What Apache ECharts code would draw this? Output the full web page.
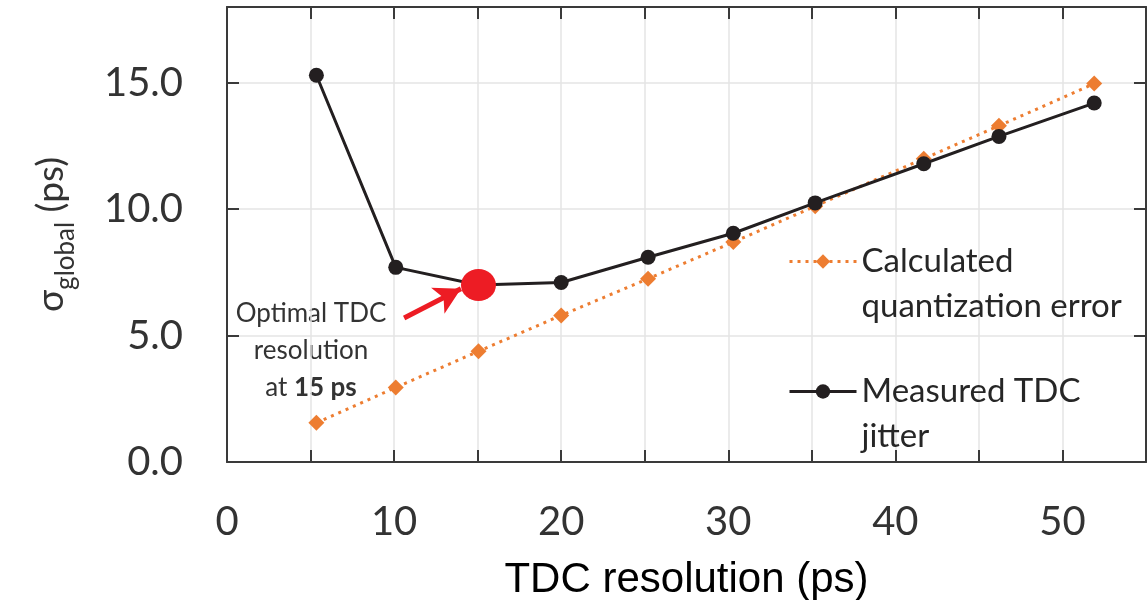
<!DOCTYPE html>
<html>
<head>
<meta charset="utf-8">
<script src="https://cdn.jsdelivr.net/npm/echarts@6/dist/echarts.min.js"></script>
<style>
  html, body { margin: 0; padding: 0; background: #fff; }
  #chart { width: 1148px; height: 600px; }
</style>
</head>
<body>
<div id="chart"></div>
<script>
// values
const resolution = [5.35, 10.1, 15.05, 20.0, 25.2, 30.3, 35.2, 41.7, 46.2, 51.9];
const calculated = [1.55, 2.95, 4.38, 5.8, 7.25, 8.7, 10.12, 12.0, 13.3, 14.97];
const measured = [15.3, 7.7, 7.0, 7.1, 8.1, 9.05, 10.25, 11.8, 12.88, 14.2];
const optimal = [15.05, 7.0];
const arrowFrom = [10.6, 5.7];
const arrowTo = [14.0, 6.85];
const xTicks = [0, 10, 20, 30, 40, 50];
const yTicks = [0, 5, 10, 15];

const FONT = 'Lato';
const axisColor = '#3a3a3a';
const gridColor = '#e4e4e4';

let chart = echarts.init(document.getElementById('chart'));

function boxLine() {
    return { show: true, onZero: false, lineStyle: { color: axisColor, width: 2 } };
}
function boxTick() {
    return { show: true, inside: true, length: 12, lineStyle: { color: axisColor, width: 2 } };
}
// axis that only draws the light grid lines, kept under the framed axes
function gridOnly(max, pos) {
    return {
        type: 'value', position: pos, min: 0, max: max, interval: 5, z: 0,
        axisLine: { show: false }, axisTick: { show: false }, axisLabel: { show: false },
        splitLine: { show: true, lineStyle: { color: gridColor, width: 1.5 } }
    };
}

chart.setOption({
    animation: false,
    grid: { left: 227, right: 2, top: 7, bottom: 138, outerBoundsMode: 'none' },
    xAxis: [
        {
            type: 'value', position: 'bottom', min: 0, max: 55, interval: 5, z: 2,
            axisLine: boxLine(), axisTick: boxTick(),
            axisLabel: {
                fontFamily: FONT, fontSize: 40, color: '#333', margin: 40,
                formatter: v => xTicks.includes(v) ? String(v) : ''
            },
            splitLine: { show: false },
            name: 'TDC resolution (ps)',
            nameLocation: 'middle',
            nameGap: 97,
            nameTextStyle: { fontFamily: 'Liberation Sans', fontSize: 42, color: '#000' }
        },
        {
            type: 'value', position: 'top', min: 0, max: 55, interval: 5, z: 2,
            axisLine: boxLine(), axisTick: boxTick(),
            axisLabel: { show: false }, splitLine: { show: false }
        },
        gridOnly(55, 'bottom')
    ],
    yAxis: [
        {
            type: 'value', position: 'left', min: 0, max: 18, interval: 5, z: 2,
            axisLine: boxLine(), axisTick: boxTick(),
            axisLabel: {
                fontFamily: FONT, fontSize: 40, color: '#333', margin: 44,
                showMaxLabel: false,
                formatter: v => yTicks.includes(v) ? v.toFixed(1) : ''
            },
            splitLine: { show: false },
            name: '{s|σ}{sub|global}{s| (ps)}',
            nameLocation: 'middle',
            nameRotate: 90,
            nameGap: 154,
            nameTextStyle: {
                rich: {
                    s: { fontFamily: FONT, fontSize: 37, color: '#333', verticalAlign: 'top', lineHeight: 40 },
                    sub: { fontFamily: FONT, fontSize: 26, color: '#333', verticalAlign: 'top', lineHeight: 25, padding: [20, 0, 0, 0] }
                }
            }
        },
        {
            type: 'value', position: 'right', min: 0, max: 18, interval: 5, z: 2,
            axisLine: boxLine(), axisTick: boxTick(),
            axisLabel: { show: false }, splitLine: { show: false }
        },
        gridOnly(18, 'left')
    ],
    legend: [
        {
            data: ['Calculated\nquantization error'],
            formatter: name => ' \n' + name,
            left: 788, top: 194, orient: 'vertical', padding: 0,
            itemWidth: 67, itemHeight: 18,
            lineStyle: { width: 3 },
            textStyle: { fontFamily: FONT, fontSize: 33, lineHeight: 45, color: '#262626' }
        },
        {
            data: ['Measured TDC\njitter'],
            formatter: name => ' \n' + name,
            left: 788, top: 324, orient: 'vertical', padding: 0,
            itemWidth: 67, itemHeight: 18,
            lineStyle: { width: 3 },
            textStyle: { fontFamily: FONT, fontSize: 33, lineHeight: 45, color: '#262626' }
        }
    ],
    graphic: [{
        type: 'text',
        x: 311, y: 295,
        style: {
            text: '{n|Optimal TDC}\n{n|resolution}\n{n|at }{b|15 ps}',
            align: 'center',
            verticalAlign: 'top',
            rich: {
                n: { fontFamily: FONT, fontSize: 26, lineHeight: 37, fill: '#333' },
                b: { fontFamily: FONT, fontSize: 26, lineHeight: 37, fontWeight: 'bold', fill: '#333' }
            }
        }
    }],
    series: [
        {
            name: 'Calculated\nquantization error',
            type: 'line',
            data: resolution.map((x, i) => [x, calculated[i]]),
            symbol: 'diamond', symbolSize: 16,
            itemStyle: { color: '#ed7d31' },
            lineStyle: { color: '#ed7d31', width: 3, type: [3, 5] },
            z: 2
        },
        {
            name: 'Measured TDC\njitter',
            type: 'line',
            data: resolution.map((x, i) => [x, measured[i]]),
            symbol: 'circle', symbolSize: 15,
            itemStyle: { color: '#231f20' },
            lineStyle: { color: '#231f20', width: 3 },
            z: 3
        },
        {
            name: 'optimum',
            type: 'scatter',
            data: [optimal],
            symbol: 'circle', symbolSize: [35, 32],
            itemStyle: { color: '#ed1c24', opacity: 1 },
            z: 5,
            markLine: {
                silent: true,
                symbol: ['none', 'arrow'],
                symbolSize: [22, 26],
                label: { show: false },
                lineStyle: { color: '#ed1c24', width: 5, type: 'solid', opacity: 1 },
                data: [[{ coord: arrowFrom }, { coord: arrowTo }]]
            }
        }
    ]
});
</script>
</body>
</html>
